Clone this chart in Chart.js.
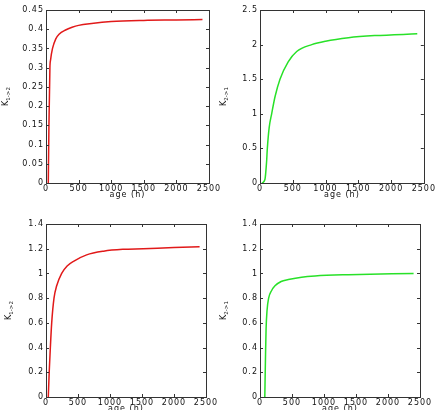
<!DOCTYPE html>
<html>
<head>
<meta charset="utf-8">
<script src="https://cdn.jsdelivr.net/npm/chart.js@4"></script>
<style>
  body { margin: 0; background: #fff; }
  .wrap { position: relative; width: 435px; height: 410px; }
  canvas { position: absolute; left: 0; top: 0; }
</style>
</head>
<body>
<div class="wrap">
  <canvas id="c1" width="435" height="410"></canvas>
  <canvas id="c2" width="435" height="410"></canvas>
  <canvas id="c3" width="435" height="410"></canvas>
  <canvas id="c4" width="435" height="410"></canvas>
</div>
<script>
'use strict';

// data
const ageTL = [35, 45, 60, 70, 100, 150, 200, 300, 400, 500, 700, 1000, 1500, 2000, 2400];
const kTL = [0, 0.15, 0.3, 0.32, 0.35, 0.375, 0.387, 0.398, 0.405, 0.41, 0.415, 0.42, 0.423, 0.424, 0.425];

const ageTR = [30, 75, 100, 112, 140, 178, 230, 305, 430, 560, 790, 1000, 1350, 1750, 2400];
const kTR = [0, 0.05, 0.3, 0.5, 0.8, 1.0, 1.25, 1.5, 1.75, 1.9, 2.0, 2.05, 2.1, 2.13, 2.155];

const ageBL = [36, 50, 68, 89, 125, 167, 245, 330, 437, 635, 900, 1200, 1520, 2000, 2400];
const kBL = [0, 0.2, 0.4, 0.6, 0.8, 0.9, 1.0, 1.06, 1.1, 1.15, 1.18, 1.195, 1.2, 1.21, 1.215];

const ageBR = [75, 85, 95, 110, 135, 180, 234, 330, 443, 650, 860, 1380, 2400];
const kBR = [0, 0.3, 0.55, 0.7, 0.8, 0.86, 0.9, 0.935, 0.95, 0.97, 0.98, 0.99, 1.0];

// tick labels
const xTicks = [0, 500, 1000, 1500, 2000, 2500];
const yTicksTL = [0, 0.05, 0.1, 0.15, 0.2, 0.25, 0.3, 0.35, 0.4, 0.45];
const yTicksTR = [0, 0.5, 1, 1.5, 2, 2.5];
const yTicksB = [0, 0.2, 0.4, 0.6, 0.8, 1, 1.2, 1.4];

const RED = 'rgb(225, 25, 25)';
const GREEN = 'rgb(40, 225, 40)';
const FONT = 'DejaVu Sans';
const INK = '#333';
const TEXT = '#111';
const SPACING = '1px';

// box, inward ticks and axis titles, matlab style
const framePlugin = {
    id: 'frame',
    beforeDraw(chart) {
        // the reference text is short and wide
        chart.ctx.letterSpacing = SPACING;
    },
    afterDraw(chart, args, opts) {
        const ctx = chart.ctx;
        const a = chart.chartArea;
        const xs = chart.scales.x;
        const ys = chart.scales.y;
        ctx.save();
        ctx.strokeStyle = INK;
        ctx.lineWidth = 1;
        ctx.strokeRect(Math.round(a.left) + 0.5, Math.round(a.top) + 0.5,
            Math.round(a.right - a.left), Math.round(a.bottom - a.top));
        ctx.beginPath();
        xs.ticks.forEach(t => {
            const px = Math.round(xs.getPixelForValue(t.value)) + 0.5;
            ctx.moveTo(px, a.bottom); ctx.lineTo(px, a.bottom - 3);
            ctx.moveTo(px, a.top); ctx.lineTo(px, a.top + 3);
        });
        ys.ticks.forEach(t => {
            const py = Math.round(ys.getPixelForValue(t.value)) + 0.5;
            ctx.moveTo(a.left, py); ctx.lineTo(a.left + 3, py);
            ctx.moveTo(a.right, py); ctx.lineTo(a.right - 3, py);
        });
        ctx.stroke();

        ctx.fillStyle = TEXT;
        ctx.font = '8px "' + FONT + '"';
        ctx.textAlign = 'center';
        ctx.textBaseline = 'middle';
        ctx.fillText('age (h)', (a.left + a.right) / 2, a.bottom + 12);

        ctx.translate(a.left - opts.yOff, (a.top + a.bottom) / 2);
        ctx.rotate(-Math.PI / 2);
        ctx.textAlign = 'left';
        ctx.letterSpacing = '0px';
        ctx.font = '8px "' + FONT + '"';
        const wK = ctx.measureText('K').width;
        ctx.font = '5.5px "' + FONT + '"';
        const wS = ctx.measureText(opts.sub).width;
        const x0 = -(wK + wS) / 2;
        ctx.font = '8px "' + FONT + '"';
        ctx.fillText('K', x0, 0);
        ctx.font = '5.5px "' + FONT + '"';
        ctx.fillText(opts.sub, x0 + wK, 3);
        ctx.restore();
    }
};

function makeChart(id, ages, ks, color, yTicks, box, sub, yOff) {
    const yw = 40, xh = 13;
    const points = ages.map((t, i) => ({ x: t, y: ks[i] }));
    return new Chart(document.getElementById(id), {
        type: 'line',
        data: {
            datasets: [{
                data: points,
                borderColor: color,
                borderWidth: 1.5,
                pointRadius: 0,
                fill: false,
                cubicInterpolationMode: 'monotone'
            }]
        },
        options: {
            responsive: false,
            animation: false,
            devicePixelRatio: 1,
            layout: {
                padding: {
                    left: box.left - yw,
                    top: box.top,
                    right: 435 - box.right,
                    bottom: 410 - box.bottom - xh
                }
            },
            plugins: {
                legend: { display: false },
                tooltip: { enabled: false },
                frame: { sub: sub, yOff: yOff }
            },
            scales: {
                x: {
                    type: 'linear',
                    min: 0,
                    max: 2500,
                    afterBuildTicks: s => { s.ticks = xTicks.map(v => ({ value: v })); },
                    afterFit: s => { s.height = xh; },
                    grid: { display: false, drawTicks: false },
                    border: { display: false },
                    ticks: {
                        padding: 1,
                        maxRotation: 0,
                        autoSkip: false,
                        color: TEXT,
                        font: { family: FONT, size: 8 },
                        callback: v => String(v)
                    }
                },
                y: {
                    type: 'linear',
                    min: yTicks[0],
                    max: yTicks[yTicks.length - 1],
                    afterBuildTicks: s => { s.ticks = yTicks.map(v => ({ value: v })); },
                    afterFit: s => { s.width = yw; },
                    grid: { display: false, drawTicks: false },
                    border: { display: false },
                    ticks: {
                        padding: 2,
                        autoSkip: false,
                        color: TEXT,
                        font: { family: FONT, size: 8 },
                        callback: v => String(v)
                    }
                }
            }
        },
        plugins: [framePlugin]
    });
}

makeChart('c1', ageTL, kTL, RED, yTicksTL, { left: 46, right: 209, top: 10, bottom: 183 }, '1->2', 40);
makeChart('c2', ageTR, kTR, GREEN, yTicksTR, { left: 260, right: 424, top: 10, bottom: 183 }, '2->1', 36);
makeChart('c3', ageBL, kBL, RED, yTicksB, { left: 46, right: 206, top: 224, bottom: 397 }, '1->2', 37);
makeChart('c4', ageBR, kBR, GREEN, yTicksB, { left: 260, right: 420, top: 224, bottom: 397 }, '2->1', 36);
</script>
</body>
</html>
